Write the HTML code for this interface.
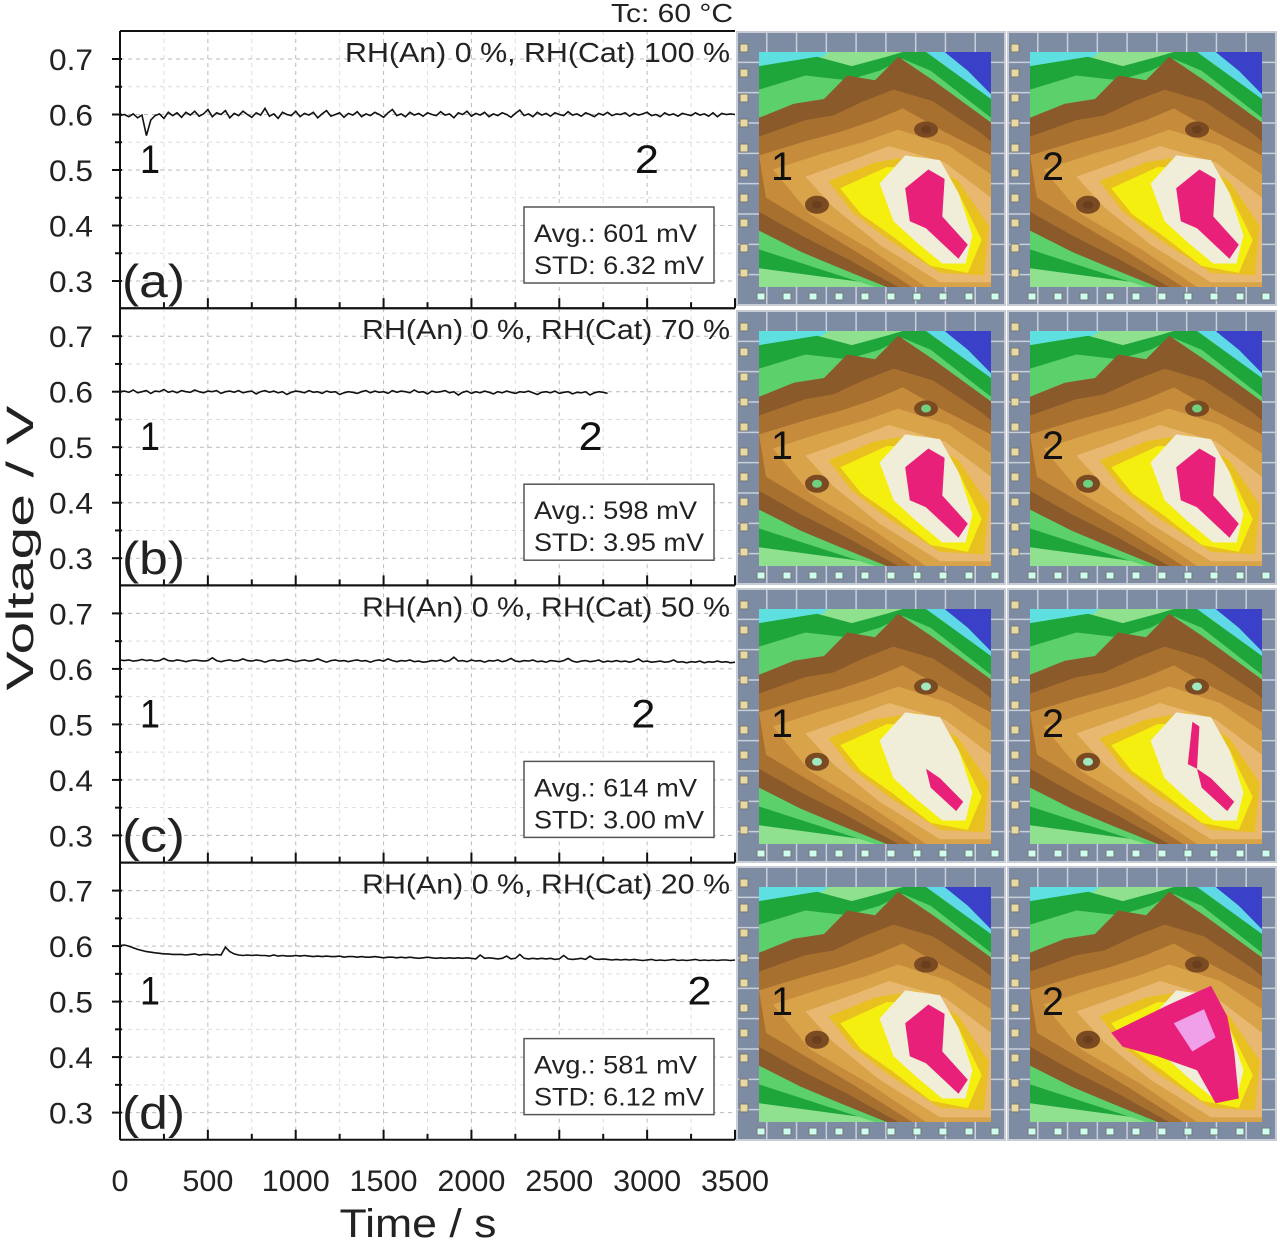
<!DOCTYPE html>
<html><head><meta charset="utf-8"><style>
html,body{margin:0;padding:0;background:#fff;}
svg{display:block;font-family:"Liberation Sans",sans-serif;}
</style></head><body>
<svg id="fig" width="1280" height="1243" viewBox="0 0 1280 1243">
<text x="733" y="22" text-anchor="end" font-size="26" textLength="122" lengthAdjust="spacingAndGlyphs" fill="#222">Tc: 60 °C</text>
<text transform="translate(33,548) rotate(-90)" text-anchor="middle" font-size="38" textLength="285" lengthAdjust="spacingAndGlyphs" fill="#222">Voltage / V</text>
<text x="418" y="1237" text-anchor="middle" font-size="40" textLength="157" lengthAdjust="spacingAndGlyphs" fill="#222">Time / s</text>
<g id="plots"></g>
<g id="maps"></g>
</svg>
<script>
// ---- data ----
const panelLabels = ["(a)","(b)","(c)","(d)"];
const rhLabels = ["RH(An) 0 %, RH(Cat) 100 %","RH(An) 0 %, RH(Cat) 70 %","RH(An) 0 %, RH(Cat) 50 %","RH(An) 0 %, RH(Cat) 20 %"];
const avgLabels = ["Avg.: 601 mV","Avg.: 598 mV","Avg.: 614 mV","Avg.: 581 mV"];
const stdLabels = ["STD: 6.32 mV","STD: 3.95 mV","STD: 3.00 mV","STD: 6.12 mV"];
const point2Time = [2930,2610,2910,3230];
const yTicks = [0.3,0.4,0.5,0.6,0.7];
const xTicks = [0,500,1000,1500,2000,2500,3000,3500];
const timeStep = 25;
const seriesA = [0.598,0.600,0.596,0.601,0.594,0.599,0.562,0.590,0.598,0.601,0.593,0.604,0.598,0.603,0.595,0.604,0.599,0.606,0.597,0.601,0.609,0.596,0.603,0.600,0.607,0.594,0.602,0.598,0.606,0.600,0.595,0.603,0.599,0.611,0.597,0.601,0.593,0.604,0.600,0.598,0.606,0.596,0.602,0.599,0.604,0.594,0.601,0.607,0.597,0.600,0.603,0.595,0.602,0.599,0.605,0.596,0.601,0.598,0.604,0.600,0.595,0.603,0.609,0.598,0.601,0.596,0.604,0.599,0.602,0.597,0.603,0.600,0.598,0.605,0.599,0.601,0.594,0.603,0.600,0.606,0.597,0.602,0.599,0.604,0.596,0.601,0.598,0.603,0.600,0.595,0.602,0.608,0.598,0.601,0.596,0.604,0.599,0.602,0.597,0.603,0.600,0.598,0.605,0.599,0.601,0.597,0.603,0.600,0.596,0.602,0.599,0.604,0.598,0.601,0.600,0.603,0.597,0.602,0.599,0.601,0.604,0.598,0.600,0.596,0.603,0.599,0.601,0.597,0.602,0.600,0.598,0.603,0.599,0.601,0.597,0.603,0.596,0.602,0.600,0.601,0.600];
const seriesB = [0.600,0.601,0.599,0.603,0.598,0.600,0.602,0.597,0.601,0.600,0.604,0.599,0.601,0.598,0.602,0.600,0.599,0.603,0.600,0.598,0.601,0.600,0.602,0.597,0.600,0.601,0.599,0.602,0.598,0.600,0.601,0.596,0.600,0.602,0.599,0.601,0.598,0.600,0.595,0.599,0.601,0.600,0.598,0.602,0.599,0.600,0.597,0.601,0.599,0.600,0.595,0.598,0.600,0.599,0.597,0.600,0.602,0.598,0.601,0.599,0.600,0.597,0.602,0.599,0.601,0.600,0.598,0.603,0.599,0.600,0.596,0.601,0.599,0.600,0.602,0.598,0.600,0.594,0.599,0.601,0.597,0.600,0.598,0.601,0.599,0.596,0.600,0.598,0.601,0.599,0.597,0.600,0.599,0.601,0.598,0.595,0.599,0.600,0.598,0.601,0.597,0.599,0.600,0.596,0.599,0.598,0.600,0.594,0.598,0.600,0.599,0.597];
const seriesC = [0.616,0.615,0.616,0.614,0.615,0.617,0.615,0.616,0.614,0.615,0.619,0.615,0.614,0.616,0.615,0.613,0.615,0.616,0.615,0.614,0.615,0.620,0.615,0.613,0.615,0.616,0.614,0.615,0.618,0.615,0.614,0.616,0.615,0.612,0.615,0.616,0.614,0.615,0.617,0.615,0.613,0.615,0.616,0.614,0.615,0.618,0.615,0.612,0.615,0.616,0.614,0.615,0.613,0.615,0.616,0.614,0.615,0.612,0.615,0.616,0.614,0.618,0.615,0.613,0.615,0.614,0.616,0.613,0.614,0.612,0.613,0.615,0.614,0.616,0.613,0.615,0.621,0.614,0.615,0.613,0.616,0.614,0.615,0.612,0.615,0.614,0.616,0.613,0.615,0.619,0.614,0.613,0.615,0.614,0.616,0.613,0.614,0.612,0.615,0.614,0.613,0.615,0.619,0.614,0.612,0.614,0.615,0.613,0.614,0.616,0.612,0.614,0.613,0.615,0.613,0.614,0.612,0.614,0.618,0.613,0.614,0.612,0.613,0.614,0.612,0.613,0.616,0.612,0.613,0.611,0.613,0.612,0.614,0.611,0.613,0.612,0.614,0.612,0.613,0.611,0.612];
const seriesD = [0.601,0.602,0.600,0.597,0.594,0.592,0.590,0.589,0.588,0.587,0.586,0.586,0.585,0.585,0.585,0.584,0.585,0.586,0.584,0.585,0.585,0.584,0.585,0.584,0.598,0.590,0.586,0.584,0.583,0.584,0.583,0.584,0.583,0.583,0.582,0.584,0.582,0.583,0.582,0.582,0.583,0.582,0.583,0.582,0.581,0.582,0.581,0.582,0.581,0.581,0.582,0.580,0.581,0.581,0.580,0.581,0.580,0.580,0.581,0.580,0.579,0.580,0.580,0.579,0.580,0.579,0.580,0.579,0.578,0.579,0.580,0.579,0.578,0.579,0.578,0.579,0.578,0.579,0.578,0.579,0.578,0.577,0.584,0.578,0.579,0.578,0.577,0.578,0.582,0.577,0.578,0.585,0.578,0.577,0.578,0.577,0.578,0.577,0.578,0.576,0.577,0.583,0.577,0.576,0.577,0.578,0.576,0.582,0.577,0.576,0.577,0.576,0.575,0.576,0.575,0.576,0.575,0.576,0.575,0.574,0.575,0.576,0.574,0.575,0.574,0.575,0.576,0.574,0.575,0.574,0.575,0.576,0.574,0.575,0.574,0.575,0.574,0.575,0.575,0.574,0.575];
const allSeries = [seriesA,seriesB,seriesC,seriesD];

const NS="http://www.w3.org/2000/svg";
function mk(tag,attrs,parent){const e=document.createElementNS(NS,tag);for(const k in attrs)e.setAttribute(k,attrs[k]);parent.appendChild(e);return e;}
const X0=120,X1=735,T0=0,T1=3500;
const PANEL_TOP=31,PANEL_H=277.2;
function xs(t){return X0+(t-T0)/(T1-T0)*(X1-X0);}
function ys(p,v){const top=PANEL_TOP+p*PANEL_H;return top+28+(0.7-v)/0.4*222;}
const plots=document.getElementById('plots');

for(let p=0;p<4;p++){
  const top=PANEL_TOP+p*PANEL_H, bot=top+PANEL_H;
  const g=mk('g',{},plots);
  
  
  for(const t of xTicks.slice(1,-1)){const l=mk('line',{x1:xs(t),x2:xs(t),y1:top,y2:bot,stroke:'#bbb','stroke-width':1,'stroke-dasharray':'4,4'},g);}
  for(let t=250;t<3500;t+=500){mk('line',{x1:xs(t),x2:xs(t),y1:top,y2:bot,stroke:'#ddd','stroke-width':1,'stroke-dasharray':'4,4'},g);}
  for(const v of yTicks){const l=mk('line',{x1:X0,x2:X1,y1:ys(p,v),y2:ys(p,v),stroke:'#bbb','stroke-width':1,'stroke-dasharray':'4,4'},g);}
  for(const v of [0.35,0.45,0.55,0.65]){mk('line',{x1:X0,x2:X1,y1:ys(p,v),y2:ys(p,v),stroke:'#ddd','stroke-width':1,'stroke-dasharray':'4,4'},g);}
  mk('line',{x1:X0,x2:X1,y1:top,y2:top,stroke:'#111','stroke-width':2},g);
  mk('line',{x1:X0,x2:X1,y1:bot,y2:bot,stroke:'#111','stroke-width':2},g);
  mk('line',{x1:X0,x2:X0,y1:top,y2:bot,stroke:'#111','stroke-width':2},g);
  for(const v of yTicks){
    mk('line',{x1:X0-8,x2:X0+2,y1:ys(p,v),y2:ys(p,v),stroke:'#111','stroke-width':2},g);
    const tx=mk('text',{x:71,y:ys(p,v)+11,'text-anchor':'middle','font-size':30,textLength:44,lengthAdjust:'spacingAndGlyphs',fill:'#222'},g);
    tx.textContent=v.toFixed(1);
    
    
  }
  for(const v of [0.35,0.45,0.55,0.65]) mk('line',{x1:X0-5,x2:X0+2,y1:ys(p,v),y2:ys(p,v),stroke:'#111','stroke-width':2},g);
  for(const t of xTicks) mk('line',{x1:xs(t),x2:xs(t),y1:bot,y2:bot-10,stroke:'#111','stroke-width':2},g);
  for(let t=250;t<3500;t+=500) mk('line',{x1:xs(t),x2:xs(t),y1:bot,y2:bot-6,stroke:'#111','stroke-width':2},g);
  const s=allSeries[p];
  let d='';
  s.forEach((v,i)=>{d+=(i?'L':'M')+xs(i*timeStep).toFixed(1)+','+ys(p,v).toFixed(1);});
  const path=mk('path',{d:d,fill:'none',stroke:'#111','stroke-width':1.6},g);
  
  
  const rh=mk('text',{x:730,y:top+31,'text-anchor':'end','font-size':28,textLength:(p===0?385:368),lengthAdjust:'spacingAndGlyphs',fill:'#222'},g);
  rh.textContent=rhLabels[p];
  
  
  const pl=mk('text',{x:122,y:top+266,'font-size':46,textLength:63,lengthAdjust:'spacingAndGlyphs',fill:'#222'},g);
  pl.textContent=panelLabels[p];
  
  
  const n1=mk('text',{x:140,y:top+142,'font-size':40,textLength:20,lengthAdjust:'spacingAndGlyphs',fill:'#111'},g);
  n1.textContent='1';
  
  
  const n2=mk('text',{x:xs(point2Time[p]),y:top+142,'font-size':40,textLength:24,lengthAdjust:'spacingAndGlyphs',fill:'#111'},g);
  n2.textContent='2';
  
  
  const bx=mk('rect',{x:524,y:top+176,width:190,height:76,fill:'#fff',stroke:'#555','stroke-width':1.5},g);
  
  
  const a=mk('text',{x:534,y:top+211,'font-size':25,textLength:163,lengthAdjust:'spacingAndGlyphs',fill:'#222'},g);
  a.textContent=avgLabels[p];
  
  
  const sd=mk('text',{x:534,y:top+243,'font-size':25,textLength:170,lengthAdjust:'spacingAndGlyphs',fill:'#222'},g);
  sd.textContent=stdLabels[p];
  
  
}
for(const t of xTicks){
  const w=String(t).length*17;
  const tx=mk('text',{x:xs(t),y:1191,'text-anchor':'middle','font-size':30,textLength:w,lengthAdjust:'spacingAndGlyphs',fill:'#222'},plots);
  tx.textContent=String(t);
  
  
}

// ---- heatmaps ----
const maps=document.getElementById('maps');
const layers=[
 ['#1fa63a',[[0,6],[25,2],[40,6],[55,2],[62,0],[72,0],[100,20],[100,100],[60,100],[0,92]]],
 ['#5cd06a',[[0,16],[20,10],[38,12],[52,8],[62,3],[74,8],[100,28],[100,100],[50,100],[0,84]]],
 ['#8b5a2b',[[0,28],[15,22],[28,20],[38,10],[50,12],[60,2],[75,12],[100,30],[100,100],[55,100],[35,92],[18,85],[0,76]]],
 ['#a8702f',[[0,36],[20,29],[32,27],[45,21],[58,16],[75,21],[95,34],[100,38],[100,100],[60,100],[38,88],[18,78],[0,68]]],
 ['#c68c3c',[[0,44],[20,38],[35,34],[50,29],[62,24],[80,34],[100,44],[100,100],[66,100],[42,85],[20,72],[3,62]]],
 ['#d9a34a',[[6,50],[28,43],[46,38],[60,33],[82,40],[100,52],[100,100],[72,100],[48,84],[22,69]]],
 ['#e8b870',[[20,53],[40,46],[56,40],[80,47],[100,62],[100,98],[78,98],[52,82],[32,66]]],
 ['#e8c020',[[30,55],[50,47],[68,44],[86,55],[99,74],[97,95],[78,94],[56,80],[40,68]]],
 ['#f5ef10',[[35,58],[55,49],[70,49],[86,60],[96,80],[90,94],[74,91],[57,78],[44,69]]],
 ['#f0eed8',[[52,56],[63,44],[78,46],[86,60],[92,78],[89,90],[79,90],[68,81],[58,72]]]
];
const pinkSmall=[[63,58],[73,50],[80,54],[79,70],[90,82],[86,88],[72,75],[65,72]];
const pinkBig=[[35,62],[60,50],[78,42],[85,55],[88,70],[90,90],[80,92],[72,78],[55,72],[40,68]];
const mapRows=[32,311,589,867];
const mapCols=[737,1008];
for(let r=0;r<4;r++){for(let c=0;c<2;c++){
  const X=mapCols[c],Y=mapRows[r],W=268,H=273;
  const g=mk('g',{},maps);
  
  
  mk('rect',{x:X,y:Y,width:W,height:H,fill:'#7d8ca3',stroke:'#c8ccd4','stroke-width':2},g);
  for(let i=1;i<9;i++){mk('line',{x1:X+i*W/9,x2:X+i*W/9,y1:Y,y2:Y+H,stroke:'#c9d0dc','stroke-width':1.5},g);mk('line',{x1:X,x2:X+W,y1:Y+i*H/9,y2:Y+i*H/9,stroke:'#c9d0dc','stroke-width':1.5},g);}
  for(let i=0;i<10;i++){mk('rect',{x:X+3,y:Y+12+i*25,width:8,height:8,fill:'#e8d9a0',stroke:'#777'},g);mk('rect',{x:X+20+i*26,y:Y+H-12,width:8,height:7,fill:'#cfe',stroke:'#777'},g);}
  const mx=X+22,my=Y+20,mw=232,mh=235;
  const P=pts=>pts.map(q=>(mx+q[0]/100*mw).toFixed(1)+','+(my+q[1]/100*mh).toFixed(1)).join(' ');
  mk('rect',{x:mx,y:my,width:mw,height:mh,fill:'#8fe08f'},g);
  mk('polygon',{points:P([[0,0],[30,0],[22,6],[0,8]]),fill:'#5fe0e0'},g);
  mk('polygon',{points:P([[70,0],[100,0],[100,24],[88,12],[78,4]]),fill:'#5fd8e8'},g);
  layers.forEach(L=>mk('polygon',{points:P(L[1]),fill:L[0]},g));
  mk('polygon',{points:P([[80,0],[100,0],[100,18],[90,8]]),fill:'#3a40c8'},g);
  const spotCol=(r===1)?'#6fd080':(r===2?'#a0e8c0':'#6b3f1e');
  mk('ellipse',{cx:mx+0.72*mw,cy:my+0.33*mh,rx:12,ry:8,fill:'#7a4a22'},g);
  mk('ellipse',{cx:mx+0.72*mw,cy:my+0.33*mh,rx:5,ry:4,fill:spotCol},g);
  mk('ellipse',{cx:mx+0.25*mw,cy:my+0.65*mh,rx:12,ry:9,fill:'#7a4a22'},g);
  mk('ellipse',{cx:mx+0.25*mw,cy:my+0.65*mh,rx:5,ry:4,fill:spotCol},g);
  if(!(r===2)){
    const pk=mk('polygon',{points:P((r===3&&c===1)?pinkBig:pinkSmall),fill:'#e8207a'},g);
    
    
    if(r===3&&c===1) mk('polygon',{points:P([[62,58],[75,52],[80,64],[70,70]]),fill:'#f0a0e8'},g);
  } else {
    mk('polygon',{points:P([[72,68],[78,72],[88,82],[85,86],[74,76]]),fill:'#e8207a'},g);
    if(c===1) mk('polygon',{points:P([[70,48],[73,50],[72,68],[68,66]]),fill:'#e8207a'},g);
  }
  const lab=mk('text',{x:mx+12,y:my+128,'font-size':40,textLength:22,lengthAdjust:'spacingAndGlyphs',fill:'#111'},g);
  lab.textContent=String(c+1);
  
  
}}
</script>
</body></html>
